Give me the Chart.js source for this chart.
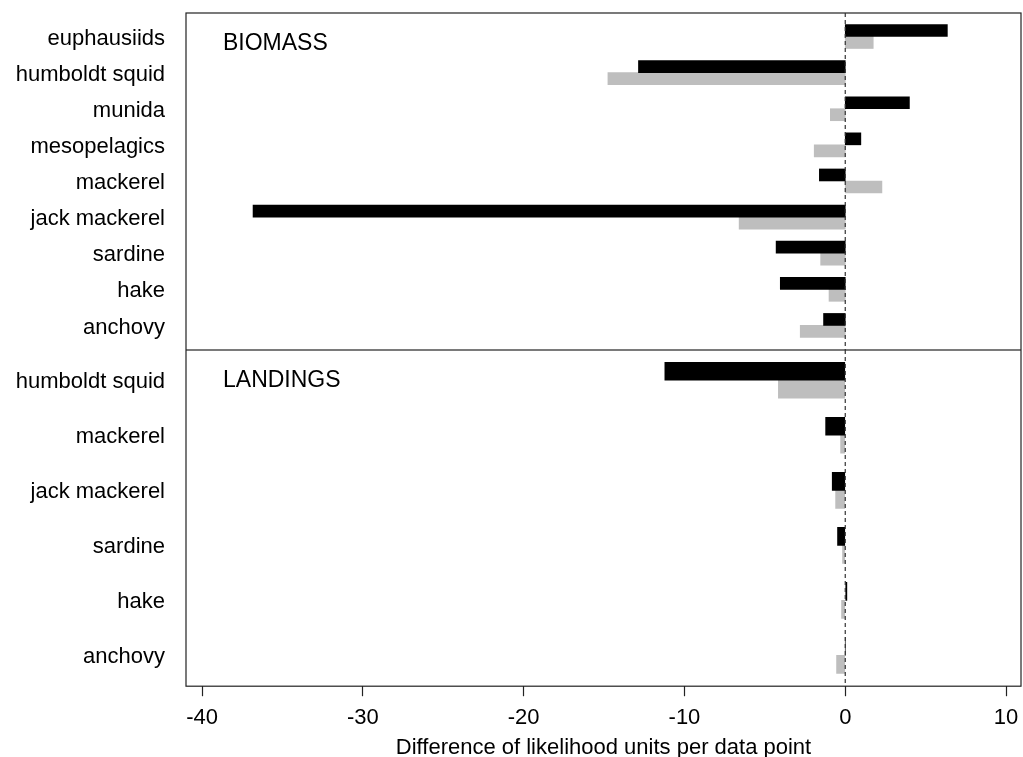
<!DOCTYPE html>
<html>
<head>
<meta charset="utf-8">
<script src="https://cdn.jsdelivr.net/npm/chart.js@4/dist/chart.umd.min.js"></script>
<style>
  body { margin: 0; background: #fff; }
  canvas { display: block; }
</style>
</head>
<body>
<canvas id="biomass" width="1023" height="350"></canvas>
<canvas id="landings" width="1023" height="407"></canvas>
<script>
// categories of each panel
const biomassLabels = ['euphausiids', 'humboldt squid', 'munida', 'mesopelagics', 'mackerel', 'jack mackerel', 'sardine', 'hake', 'anchovy'];
const landingsLabels = ['humboldt squid', 'mackerel', 'jack mackerel', 'sardine', 'hake', 'anchovy'];

// difference of likelihood units per data point (black / grey series)
const biomassBlack = [6.35, -12.86, 3.99, 0.97, -1.61, -36.83, -4.3, -4.04, -1.35];
const biomassGrey = [1.74, -14.76, -0.93, -1.93, 2.28, -6.6, -1.53, -1.01, -2.8];
const landingsBlack = [-11.22, -1.22, -0.81, -0.48, 0.1, 0];
const landingsGrey = [-4.16, -0.29, -0.6, -0.17, -0.23, -0.54];

const xTicks = [-40, -30, -20, -10, 0, 10];

const FONT = "'Liberation Sans', Arial, sans-serif";

// pairs each value with its row index on the panel's axis
function toPoints(values) {
    return values.map((v, i) => ({ x: v, y: i }));
}

// frame, dashed zero line and panel title
const panelFrame = {
    id: 'panelFrame',
    afterDatasetsDraw(chart, args, opts) {
        const { ctx, chartArea, scales } = chart;
        const x0 = scales.x.getPixelForValue(0);
        ctx.save();
        ctx.strokeStyle = '#222';
        ctx.lineWidth = 1.2;
        ctx.strokeRect(chartArea.left, chartArea.top, chartArea.right - chartArea.left, chartArea.bottom - chartArea.top);

        ctx.setLineDash([4, 3]);
        ctx.strokeStyle = '#333';
        ctx.beginPath();
        ctx.moveTo(x0, chartArea.top);
        ctx.lineTo(x0, chartArea.bottom);
        ctx.stroke();
        ctx.setLineDash([]);

        ctx.fillStyle = '#000';
        ctx.font = '23px ' + FONT;
        ctx.textBaseline = 'alphabetic';
        ctx.fillText(opts.text, chartArea.left + 37, chartArea.top + 37);
        ctx.restore();
    }
};

function drawPanel(canvasId, title, labels, black, grey, yMin, yMax, barThickness, showX) {
    new Chart(document.getElementById(canvasId), {
        type: 'bar',
        data: {
            datasets: [
                { label: 'black', data: toPoints(black), backgroundColor: '#000', borderWidth: 0, barThickness: barThickness },
                { label: 'grey', data: toPoints(grey), backgroundColor: '#bebebe', borderWidth: 0, barThickness: barThickness }
            ]
        },
        options: {
            indexAxis: 'y',
            responsive: false,
            animation: false,
            layout: { padding: showX ? { top: 0, right: 2, bottom: -4, left: 0 } : { top: 13, right: 2, bottom: 0, left: 0 } },
            plugins: {
                legend: { display: false },
                tooltip: { enabled: false },
                panelFrame: { text: title }
            },
            scales: {
                x: {
                    type: 'linear',
                    display: showX,
                    min: -41,
                    max: 10.93,
                    afterBuildTicks: scale => { scale.ticks = xTicks.map(v => ({ value: v })); },
                    // keep both panels on the same horizontal span
                    afterFit: scale => {
                        scale.paddingLeft = 0;
                        scale.paddingRight = 0;
                    },
                    grid: { drawOnChartArea: false, drawTicks: true, tickLength: 10, tickColor: '#222', tickWidth: 1.2 },
                    border: { display: false },
                    ticks: {
                        padding: 9,
                        color: '#000',
                        font: { size: 22, family: FONT }
                    },
                    title: {
                        display: true,
                        text: 'Difference of likelihood units per data point',
                        color: '#000',
                        font: { size: 22, family: FONT },
                        padding: { top: -6, bottom: 0 }
                    }
                },
                y: {
                    type: 'linear',
                    reverse: true,
                    offset: false,
                    bounds: 'data',
                    min: yMin,
                    max: yMax,
                    afterBuildTicks: scale => { scale.ticks = labels.map((name, i) => ({ value: i })); },
                    grid: { display: false, drawTicks: false, offset: false },
                    border: { display: false },
                    ticks: {
                        autoSkip: false,
                        padding: 21,
                        labelOffset: 2,
                        color: '#000',
                        font: { size: 22, family: FONT },
                        callback: v => labels[v]
                    },
                    afterFit: scale => {
                        scale.width = 186;
                        scale.paddingTop = 0;
                        scale.paddingBottom = 0;
                    }
                }
            }
        },
        plugins: [panelFrame]
    });
}

drawPanel('biomass', 'BIOMASS', biomassLabels, biomassBlack, biomassGrey, -0.65, 8.68, 12, false);
drawPanel('landings', 'LANDINGS', landingsLabels, landingsBlack, landingsGrey, -0.55, 5.56, 18, true);
</script>
</body>
</html>
